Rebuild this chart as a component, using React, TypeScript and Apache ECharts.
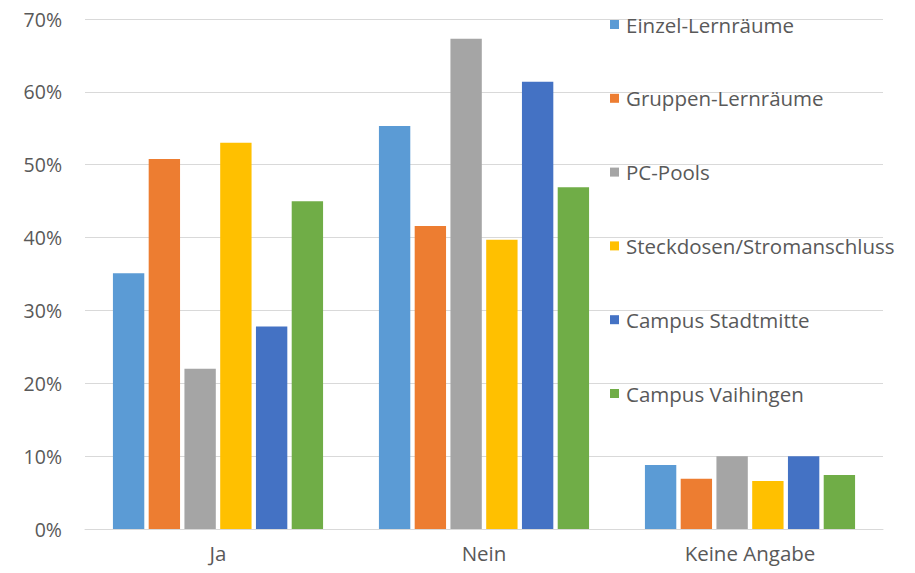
import React, { useEffect, useRef } from "react";
import * as echarts from "echarts";

const categories = ["Ja", "Nein", "Keine Angabe"];
const seriesNames = [
  "Einzel-Lernräume",
  "Gruppen-Lernräume",
  "PC-Pools",
  "Steckdosen/Stromanschluss",
  "Campus Stadtmitte",
  "Campus Vaihingen",
];
const einzel = [35.1, 55.3, 8.8];
const gruppen = [50.8, 41.6, 6.9];
const pcPools = [22.0, 67.3, 10.0];
const steckdosen = [53.0, 39.7, 6.6];
const stadtmitte = [27.8, 61.4, 10.0];
const vaihingen = [45.0, 46.9, 7.4];
const colors = ["#5B9BD5", "#ED7D31", "#A5A5A5", "#FFC000", "#4472C4", "#70AD47"];
const yTicks = { min: 0, max: 70, interval: 10 };

const FONT = "'Open Sans', 'Noto Sans', sans-serif";

export default function App() {
  const ref = useRef<HTMLDivElement>(null);
  useEffect(() => {
    document.body.style.margin = "0";
    if (!ref.current) return;
    const chart = echarts.init(ref.current, undefined, { renderer: "svg" });
    const values = [einzel, gruppen, pcPools, steckdosen, stadtmitte, vaihingen];
    chart.setOption({
      animation: false,
      textStyle: { fontFamily: FONT },
      grid: { left: 85, right: 32, top: 19, bottom: 44 },
      legend: {
        orient: "vertical",
        left: 610,
        top: 14,
        padding: 0,
        itemWidth: 9,
        itemHeight: 9,
        itemGap: 52.8,
        icon: "rect",
        textStyle: { fontFamily: FONT, fontSize: 20.5, color: "#595959", lineHeight: 20, padding: [0, 0, 0, 2] },
        data: seriesNames,
      },
      xAxis: {
        type: "category",
        data: categories,
        axisLine: { lineStyle: { color: "#D9D9D9", width: 1 } },
        axisTick: { show: false },
        axisLabel: { color: "#595959", fontSize: 20.5, fontFamily: FONT, margin: 13 },
      },
      yAxis: {
        type: "value",
        min: yTicks.min,
        max: yTicks.max,
        interval: yTicks.interval,
        axisLine: { show: false },
        axisTick: { show: false },
        splitLine: { lineStyle: { color: "#D9D9D9", width: 1 } },
        axisLabel: {
          color: "#595959",
          fontSize: 19.5,
          fontFamily: FONT,
          margin: 23,
          formatter: (v: number) => v + "%",
        },
      },
      series: seriesNames.map((name, i) => ({
        name,
        type: "bar",
        data: values[i],
        barGap: "14%",
        barCategoryGap: "21%",
        itemStyle: { color: colors[i] },
      })),
    });
    return () => chart.dispose();
  }, []);
  return <div ref={ref} style={{ width: 915, height: 573 }} />;
}
